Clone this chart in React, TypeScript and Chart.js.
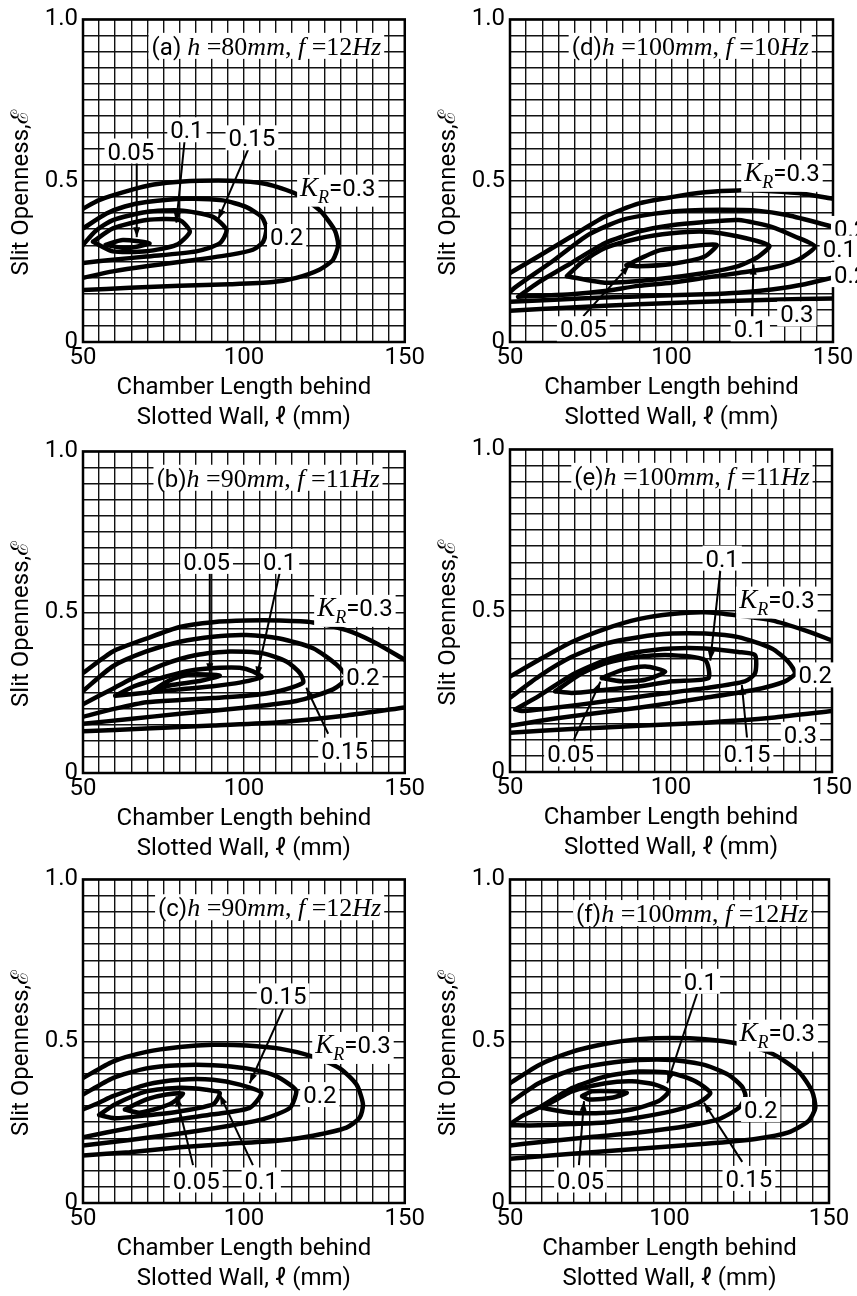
import React, { useEffect, useRef } from 'react';
import { Chart, registerables } from 'chart.js';
Chart.register(...registerables);

type Pt = [number, number];

// ---------- axes ----------
const X_MIN = 50, X_MAX = 150, X_STEP = 5;
const Y_MIN = 0, Y_MAX = 1, Y_STEP = 0.05;
const X_TICK_LABELS = [50, 100, 150];
const Y_TICK_LABELS: [number, string][] = [[0, '0'], [0.5, '0.5'], [1, '1.0']];
const X_TITLE = ['Chamber Length behind', 'Slotted Wall, ℓ (mm)'];
const Y_TITLE = 'Slit Openness,ℰ    ';

// ---------- (a) h=80mm, f=12Hz ----------
const A_030: Pt[] = [[50,0.413],[55,0.44],[64.5,0.47],[72,0.488],[80,0.497],[95.6,0.5],[107,0.49],[116.3,0.459],[123.6,0.408],[128.2,0.347],[129.3,0.301],[127.7,0.255],[123.6,0.225],[116.3,0.199],[109,0.186],[95.6,0.179],[80,0.174],[64.5,0.168],[50,0.161]];
const A_020: Pt[] = [[50,0.352],[57.3,0.398],[63,0.42],[69.7,0.434],[82.1,0.444],[93.5,0.439],[100.8,0.418],[105.5,0.388],[107,0.352],[106,0.311],[102.8,0.286],[95.6,0.27],[85.2,0.255],[69.7,0.235],[59.3,0.219],[50,0.199]];
const A_015: Pt[] = [[50,0.301],[54,0.345],[59.3,0.378],[69.7,0.403],[80,0.408],[90.4,0.388],[94.6,0.347],[92.5,0.306],[85.2,0.281],[69.7,0.265],[59.3,0.255],[50,0.245]];
const A_010: Pt[] = [[53.1,0.311],[59.3,0.352],[69.7,0.378],[80,0.378],[83.2,0.342],[79,0.301],[69.7,0.281],[59.3,0.281],[53.1,0.311]];
const A_005: Pt[] = [[57,0.301],[62.4,0.316],[70.7,0.306],[63.5,0.291],[57,0.301]];

// ---------- (d) h=100mm, f=10Hz ----------
const D_030U: Pt[] = [[50,0.214],[58.7,0.265],[69,0.327],[79.3,0.388],[89.7,0.429],[100,0.449],[110.3,0.464],[120.7,0.47],[131,0.467],[141.3,0.459],[150,0.444]];
const D_030L: Pt[] = [[50,0.097],[69,0.107],[89.7,0.117],[110.3,0.125],[131,0.131],[150,0.135]];
const D_020U: Pt[] = [[50,0.155],[51.4,0.168],[63.8,0.255],[74.2,0.332],[84.5,0.378],[94.8,0.398],[105.2,0.408],[115.5,0.41],[125.8,0.408],[136.1,0.393],[150,0.357]];
const D_020L: Pt[] = [[50,0.125],[63.8,0.131],[79.3,0.138],[94.8,0.143],[110.3,0.148],[120.7,0.153],[131,0.163],[141.3,0.179],[150,0.2]];
const D_015: Pt[] = [[52.5,0.14],[58.7,0.184],[69,0.245],[79.3,0.306],[89.7,0.342],[100,0.362],[110.3,0.372],[120.7,0.378],[131,0.357],[138.2,0.327],[144.4,0.296],[139.2,0.255],[131,0.23],[120.7,0.214],[110.3,0.199],[100,0.184],[89.7,0.174],[79.3,0.158],[69,0.148],[58.7,0.143],[52.5,0.14]];
const D_010: Pt[] = [[67.6,0.204],[72,0.245],[79.3,0.291],[89.7,0.321],[100,0.337],[110.3,0.342],[120.7,0.327],[130.3,0.298],[126.9,0.265],[120.7,0.235],[110.3,0.214],[94.8,0.194],[79.3,0.184],[67.6,0.204]];
const D_005: Pt[] = [[86,0.238],[96,0.283],[105.2,0.296],[114,0.301],[110.3,0.265],[100,0.242],[89.7,0.235],[86,0.238]];

// ---------- (b) h=90mm, f=11Hz ----------
const B_030U: Pt[] = [[50,0.311],[59.3,0.378],[69.7,0.418],[80.1,0.454],[90.4,0.469],[100.8,0.474],[111.1,0.474],[121.5,0.468],[131.9,0.444],[140.2,0.408],[150,0.352]];
const B_030L: Pt[] = [[50,0.13],[69.7,0.138],[90.4,0.148],[111.1,0.158],[131.9,0.179],[150,0.204]];
const B_020: Pt[] = [[50,0.255],[59.3,0.332],[69.7,0.378],[80.1,0.408],[90.4,0.424],[100.8,0.429],[111.1,0.418],[121.5,0.388],[128.8,0.337],[131.9,0.296],[127.7,0.26],[116.3,0.224],[100.8,0.204],[80.1,0.184],[64.5,0.168],[50,0.153]];
const B_015: Pt[] = [[50,0.214],[55,0.24],[59.3,0.262],[64.5,0.29],[74.9,0.337],[85.2,0.367],[95.6,0.378],[106,0.372],[113.2,0.347],[117.4,0.311],[118.4,0.281],[111.1,0.255],[100.8,0.24],[90.4,0.233],[80.1,0.227],[69.7,0.22],[60,0.2],[50,0.175]];
const B_010: Pt[] = [[60,0.24],[66,0.27],[75.9,0.3],[83.1,0.318],[92.5,0.327],[98.7,0.327],[102.8,0.316],[105.5,0.298],[98.7,0.281],[90.4,0.27],[80.1,0.26],[70,0.25],[60,0.24]];
const B_005: Pt[] = [[70.7,0.25],[76.9,0.288],[83.1,0.306],[92.5,0.303],[86.3,0.286],[76.9,0.272],[70.7,0.25]];

// ---------- (e) h=100mm, f=11Hz ----------
const E_030U: Pt[] = [[50,0.296],[58.9,0.347],[69.2,0.403],[79.6,0.444],[89.9,0.474],[100.3,0.49],[110.6,0.495],[120.9,0.485],[131.3,0.47],[141.6,0.439],[150,0.408]];
const E_030L: Pt[] = [[50,0.122],[69.2,0.133],[89.9,0.143],[110.6,0.153],[131.3,0.168],[150,0.189]];
const E_020: Pt[] = [[50,0.23],[58.9,0.296],[69.2,0.357],[79.6,0.398],[89.9,0.418],[100.3,0.429],[110.6,0.429],[120.9,0.418],[131.3,0.383],[136.4,0.342],[138.5,0.306],[135.4,0.281],[126.1,0.255],[110.6,0.23],[89.9,0.199],[69.2,0.173],[58.9,0.158],[50,0.143]];
const E_015: Pt[] = [[51.6,0.194],[58.9,0.235],[69.2,0.301],[79.6,0.347],[89.9,0.372],[100.3,0.383],[110.6,0.383],[120.9,0.372],[126.1,0.362],[126.1,0.306],[122.9,0.281],[110.6,0.26],[95.1,0.24],[79.6,0.219],[64,0.199],[53.7,0.189],[51.6,0.194]];
const E_010: Pt[] = [[64,0.25],[72.3,0.306],[79.6,0.337],[89.9,0.357],[100.3,0.362],[110.6,0.347],[111.6,0.291],[100.3,0.281],[89.9,0.265],[79.6,0.255],[69.2,0.245],[64,0.25]];
const E_005: Pt[] = [[78.5,0.291],[84.7,0.316],[92,0.327],[98.2,0.311],[92,0.286],[84.7,0.281],[78.5,0.291]];

// ---------- (c) h=90mm, f=12Hz ----------
const C_030: Pt[] = [[50,0.386],[59.3,0.437],[69.7,0.467],[80.1,0.482],[90.4,0.489],[100.8,0.487],[111.1,0.477],[121.5,0.452],[129.8,0.416],[135,0.366],[137,0.305],[136,0.264],[131.9,0.233],[121.5,0.208],[111.1,0.193],[95.6,0.183],[80.1,0.172],[64.5,0.157],[50,0.147]];
const C_020: Pt[] = [[50,0.335],[59.3,0.386],[69.7,0.416],[80.1,0.426],[90.4,0.426],[100.8,0.416],[109.1,0.396],[114.3,0.366],[116.3,0.345],[114.3,0.294],[106,0.259],[95.6,0.239],[80.1,0.215],[64.5,0.195],[50,0.178]];
const C_015: Pt[] = [[50,0.289],[55,0.31],[59.3,0.33],[69.7,0.366],[80.1,0.381],[90.4,0.381],[98.7,0.366],[105.4,0.34],[101.8,0.294],[90.4,0.274],[80.1,0.259],[64.5,0.232],[50,0.203]];
const C_010: Pt[] = [[55,0.272],[60,0.305],[69.7,0.345],[80.1,0.356],[88.3,0.35],[92.5,0.34],[90.4,0.305],[80.1,0.283],[69,0.27],[60,0.262],[55,0.272]];
const C_005: Pt[] = [[63,0.289],[69.7,0.32],[75.9,0.335],[81.1,0.338],[76.9,0.305],[67.6,0.279],[63,0.289]];

// ---------- (f) h=100mm, f=12Hz ----------
const F_030: Pt[] = [[50,0.37],[59,0.426],[69.4,0.467],[79.9,0.492],[90.3,0.506],[100.8,0.51],[111.2,0.506],[121.7,0.492],[132.1,0.462],[140.5,0.406],[144.7,0.345],[145.7,0.294],[143.6,0.254],[137.3,0.218],[126.9,0.198],[111.2,0.183],[90.3,0.168],[69.4,0.152],[50,0.137]];
const F_020: Pt[] = [[50,0.31],[59,0.37],[69.4,0.411],[79.9,0.431],[90.3,0.442],[100.8,0.442],[111.2,0.426],[118.5,0.396],[122.7,0.36],[123.8,0.33],[121.7,0.294],[115.4,0.259],[106,0.239],[90.3,0.218],[74.6,0.203],[59,0.188],[50,0.178]];
const F_015: Pt[] = [[50,0.244],[54,0.27],[59,0.294],[69.4,0.355],[79.9,0.391],[90.3,0.406],[100.8,0.401],[108.1,0.376],[112.8,0.34],[109.1,0.31],[100.8,0.284],[90.3,0.264],[79.9,0.249],[69.4,0.244],[59,0.24],[50,0.24]];
const F_010: Pt[] = [[60,0.294],[69.4,0.345],[79.9,0.37],[88.2,0.376],[95.5,0.366],[99.7,0.345],[96.6,0.315],[88.2,0.289],[79.9,0.279],[69.4,0.279],[60,0.294]];
const F_005: Pt[] = [[72.6,0.33],[75.7,0.345],[83,0.345],[86.6,0.34],[81.9,0.325],[74.6,0.32],[72.6,0.33]];

// ---------- annotations (data units) ----------
type Lbl = { t: string; x: number; y: number; align?: 'left'; kr?: boolean };
const LABELS_A: Lbl[] = [{t:'0.05',x:64.9,y:0.592},{t:'0.1',x:82.3,y:0.658},{t:'0.15',x:102.5,y:0.633},{t:'0.2',x:113.3,y:0.327},{t:'0.3',x:129.2,y:0.48,kr:true}];
const ARROWS_A: number[][] = [[66.7,0.56,66.7,0.325],[81.6,0.627,79,0.37],[101.3,0.596,92,0.38]];
const LABELS_D: Lbl[] = [{t:'0.3',x:134.2,y:0.526,kr:true},{t:'0.2',x:150.3,y:0.352,align:'left'},{t:'0.15',x:146.8,y:0.291,align:'left'},{t:'0.2',x:150.3,y:0.209,align:'left'},{t:'0.3',x:138.8,y:0.087},{t:'0.05',x:72.7,y:0.041},{t:'0.1',x:124.4,y:0.041}];
const ARROWS_D: number[][] = [[72.7,0.08,87,0.238],[124.9,0.077,125.4,0.24]];
const LABELS_B: Lbl[] = [{t:'0.05',x:88.4,y:0.658},{t:'0.1',x:111.1,y:0.658},{t:'0.3',x:134.5,y:0.515,kr:true},{t:'0.2',x:137,y:0.301},{t:'0.15',x:131.3,y:0.071}];
const ARROWS_B: number[][] = [[89.4,0.622,89.4,0.31],[111.1,0.622,104,0.3],[126.2,0.122,119.4,0.265]];
const LABELS_E: Lbl[] = [{t:'0.1',x:115.9,y:0.663},{t:'0.3',x:132.9,y:0.536,kr:true},{t:'0.2',x:144.8,y:0.301},{t:'0.3',x:140.2,y:0.117},{t:'0.05',x:68.8,y:0.056},{t:'0.15',x:123.6,y:0.056}];
const ARROWS_E: number[][] = [[115.3,0.623,112.2,0.345],[69.9,0.102,78.1,0.28],[123.6,0.107,122,0.27]];
const LABELS_C: Lbl[] = [{t:'0.15',x:112.2,y:0.64},{t:'0.3',x:133.9,y:0.49,kr:true},{t:'0.2',x:123.6,y:0.335},{t:'0.05',x:85.2,y:0.071},{t:'0.1',x:105.4,y:0.071}];
const ARROWS_C: number[][] = [[112.2,0.6,101.8,0.37],[84.2,0.117,79,0.33],[102.8,0.117,92.5,0.335]];
const LABELS_F: Lbl[] = [{t:'0.1',x:109.7,y:0.685},{t:'0.3',x:133.8,y:0.528,kr:true},{t:'0.2',x:128.6,y:0.289},{t:'0.05',x:72.1,y:0.071},{t:'0.15',x:124.9,y:0.076}];
const ARROWS_F: number[][] = [[108.7,0.649,99.3,0.37],[71.6,0.117,73.2,0.315],[122.8,0.127,110.8,0.31]];

// ---------- styling / layout ----------
const SANS = "Roboto, 'Noto Sans', 'DejaVu Sans', sans-serif";
const SERIF = "'Liberation Serif', 'DejaVu Serif', serif";
const LBL_SIZE = 24;

interface Panel {
  tag: string; h: string; f: string; tx: number; ty: number;
  contours: Pt[][]; labels: Lbl[]; arrows: number[][];
  colLeft: number; colW: number; plotL: number; plotT: number; plotR: number; plotB: number;
}

const PANELS: Panel[] = [
  { tag: '(a) ', h: '80', f: '12', tx: 107, ty: 0.918, contours: [A_030, A_020, A_015, A_010, A_005], labels: LABELS_A, arrows: ARROWS_A, colLeft: 0, colW: 427, plotL: 83, plotT: 15, plotR: 405, plotB: 342 },
  { tag: '(d)', h: '100', f: '10', tx: 105.8, ty: 0.918, contours: [D_030U, D_030L, D_020U, D_020L, D_015, D_010, D_005], labels: LABELS_D, arrows: ARROWS_D, colLeft: 427, colW: 430, plotL: 510, plotT: 15, plotR: 833, plotB: 342 },
  { tag: '(b)', h: '90', f: '11', tx: 107.5, ty: 0.918, contours: [B_030U, B_030L, B_020, B_015, B_010, B_005], labels: LABELS_B, arrows: ARROWS_B, colLeft: 0, colW: 427, plotL: 83, plotT: 447, plotR: 405, plotB: 773 },
  { tag: '(e)', h: '100', f: '11', tx: 106.5, ty: 0.918, contours: [E_030U, E_030L, E_020, E_015, E_010, E_005], labels: LABELS_E, arrows: ARROWS_E, colLeft: 427, colW: 430, plotL: 510, plotT: 445, plotR: 832, plotB: 772 },
  { tag: '(c)', h: '90', f: '12', tx: 108, ty: 0.914, contours: [C_030, C_020, C_015, C_010, C_005], labels: LABELS_C, arrows: ARROWS_C, colLeft: 0, colW: 427, plotL: 83, plotT: 875, plotR: 405, plotB: 1203 },
  { tag: '(f)', h: '100', f: '12', tx: 107.1, ty: 0.896, contours: [F_030, F_020, F_015, F_010, F_005], labels: LABELS_F, arrows: ARROWS_F, colLeft: 427, colW: 430, plotL: 510, plotT: 875, plotR: 829, plotB: 1203 },
];

type Seg = { t: string; font: string; dy?: number };

function numSegs(t: string): Seg[] { return [{ t, font: `${LBL_SIZE}px ${SANS}` }]; }
function krSegs(v: string): Seg[] {
  return [
    { t: 'K', font: `italic 27px ${SERIF}` },
    { t: 'R', font: `italic 18px ${SERIF}`, dy: 7 },
    { t: '=' + v, font: `${LBL_SIZE}px ${SANS}` },
  ];
}
function titleSegs(p: Panel): Seg[] {
  const s = `26px ${SERIF}`, i = `italic 26px ${SERIF}`;
  return [
    { t: p.tag, font: `24px ${SANS}` }, { t: 'h', font: i }, { t: ' =', font: s }, { t: p.h, font: s },
    { t: 'mm', font: i }, { t: ', ', font: s }, { t: 'f', font: i }, { t: ' =', font: s }, { t: p.f, font: s }, { t: 'Hz', font: i },
  ];
}

function drawRich(ctx: CanvasRenderingContext2D, segs: Seg[], px: number, py: number, align?: 'left', capH = 17) {
  ctx.save();
  ctx.textBaseline = 'alphabetic';
  ctx.textAlign = 'left';
  let w = 0; let maxDy = 0;
  const ws = segs.map((s) => { ctx.font = s.font; const m = ctx.measureText(s.t).width; w += m; maxDy = Math.max(maxDy, s.dy || 0); return m; });
  const base = py + capH / 2;
  const x0 = align === 'left' ? px : px - w / 2;
  const top = base - capH - 4;
  const bottom = base + 4 + maxDy;
  ctx.fillStyle = '#fff';
  ctx.fillRect(x0 - 3, top, w + 6, bottom - top);
  ctx.fillStyle = '#000';
  let x = x0;
  segs.forEach((s, k) => { ctx.font = s.font; ctx.fillText(s.t, x, base + (s.dy || 0)); x += ws[k]; });
  ctx.restore();
}

function drawArrow(ctx: CanvasRenderingContext2D, x1: number, y1: number, x2: number, y2: number) {
  ctx.save();
  ctx.strokeStyle = '#000'; ctx.fillStyle = '#000'; ctx.lineWidth = 2;
  ctx.beginPath(); ctx.moveTo(x1, y1); ctx.lineTo(x2, y2); ctx.stroke();
  const a = Math.atan2(y2 - y1, x2 - x1), L = 10, W = 3.5;
  const c = Math.cos(a), s = Math.sin(a);
  ctx.beginPath();
  ctx.moveTo(x2, y2);
  ctx.lineTo(x2 - L * c + W * s, y2 - L * s - W * c);
  ctx.lineTo(x2 - L * c - W * s, y2 - L * s + W * c);
  ctx.closePath(); ctx.fill();
  ctx.restore();
}

function overlay(p: Panel) {
  return {
    id: 'overlay',
    afterDatasetsDraw(chart: any) {
      const { ctx, chartArea: ca, scales } = chart;
      const xs = scales.x, ys = scales.y;
      ctx.save();
      ctx.strokeStyle = '#000'; ctx.lineWidth = 2.5;
      ctx.strokeRect(ca.left, ca.top, ca.right - ca.left, ca.bottom - ca.top);
      ctx.restore();
      p.arrows.forEach(([x1, y1, x2, y2]) => drawArrow(ctx, xs.getPixelForValue(x1), ys.getPixelForValue(y1), xs.getPixelForValue(x2), ys.getPixelForValue(y2)));
      drawRich(ctx, titleSegs(p), xs.getPixelForValue(p.tx), ys.getPixelForValue(p.ty), undefined, 18);
      p.labels.forEach((l) => drawRich(ctx, l.kr ? krSegs(l.t) : numSegs(l.t), xs.getPixelForValue(l.x), ys.getPixelForValue(l.y), l.align));
    },
  };
}

function makeConfig(p: Panel): any {
  const yAxisW = p.plotL - p.colLeft;
  const padRight = p.colLeft + p.colW - p.plotR;
  return {
    type: 'scatter',
    data: {
      datasets: p.contours.map((c) => ({
        data: c.map(([x, y]) => ({ x, y })),
        showLine: true, borderColor: '#000', backgroundColor: '#000', borderWidth: 4.5,
        pointRadius: 0, pointHoverRadius: 0, tension: 0.22, fill: false,
        borderCapStyle: 'round', borderJoinStyle: 'round',
      })),
    },
    options: {
      animation: false, responsive: false, devicePixelRatio: 1, events: [],
      layout: { padding: { top: 15, right: padRight, bottom: 0, left: 0 } },
      plugins: { legend: { display: false }, tooltip: { enabled: false } },
      scales: {
        x: {
          type: 'linear', position: 'bottom', min: X_MIN, max: X_MAX,
          ticks: {
            stepSize: X_STEP, autoSkip: false, maxRotation: 0, minRotation: 0, padding: 2, color: '#000',
            font: { family: SANS, size: 24 },
            callback: (v: number) => { const r = Math.round(v); return Math.abs(v - r) < 1e-6 && X_TICK_LABELS.includes(r) ? String(r) : ''; },
          },
          grid: { color: '#111', lineWidth: 1.4, drawTicks: false },
          border: { display: false },
          title: { display: true, text: X_TITLE, color: '#000', font: { family: SANS, size: 24, lineHeight: 1.25 }, padding: { top: 0, bottom: 7 } },
          afterFit: (s: any) => { s.height = 98; },
        },
        y: {
          type: 'linear', position: 'left', min: Y_MIN, max: Y_MAX,
          ticks: {
            stepSize: Y_STEP, autoSkip: false, padding: 5, color: '#000',
            font: { family: SANS, size: 24 },
            callback: (v: number) => { const f = Y_TICK_LABELS.find(([t]) => Math.abs(t - v) < 1e-6); return f ? f[1] : ''; },
          },
          grid: { color: '#111', lineWidth: 1.4, drawTicks: false },
          border: { display: false },
          title: { display: true, text: Y_TITLE, color: '#000', font: { family: SANS, size: 24, lineHeight: 1.2 }, padding: { top: 8, bottom: 0 } },
          afterFit: (s: any) => { s.width = yAxisW; },
        },
      },
    },
    plugins: [overlay(p)],
  };
}

function PanelChart({ p }: { p: Panel }) {
  const ref = useRef<HTMLCanvasElement>(null);
  const top = p.plotT - 15;
  const h = p.plotB - top + 98;
  useEffect(() => {
    const chart = new Chart(ref.current as HTMLCanvasElement, makeConfig(p));
    return () => chart.destroy();
  }, []);
  return (
    <canvas ref={ref} width={p.colW} height={h}
      style={{ position: 'absolute', left: p.colLeft, top, width: p.colW, height: h }} />
  );
}

export default function App() {
  return (
    <div style={{ position: 'absolute', left: 0, top: 0, width: 857, height: 1296, overflow: 'hidden', background: '#fff' }}>
      {PANELS.map((p, i) => <PanelChart key={i} p={p} />)}
    </div>
  );
}
